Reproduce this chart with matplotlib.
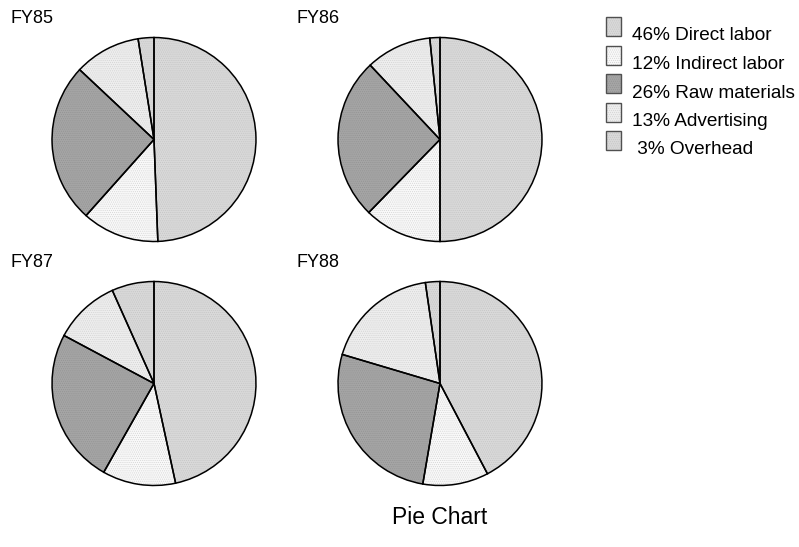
import matplotlib.pyplot as plt
from matplotlib.patches import Rectangle

plt.rcParams['font.family'] = ['Liberation Sans', 'DejaVu Sans']

# share of costs per fiscal year, clockwise from 12 o'clock
years = ['FY85', 'FY86', 'FY87', 'FY88']
direct_labor = [49.4, 50.0, 46.6, 42.3]
indirect_labor = [12.2, 12.3, 11.6, 10.4]
raw_materials = [25.4, 25.7, 24.6, 26.9]
advertising = [10.5, 10.4, 10.5, 18.1]
overhead = [2.5, 1.6, 6.7, 2.3]

legend_labels = ['46% Direct labor', '12% Indirect labor', '26% Raw materials',
                 '13% Advertising', ' 3% Overhead']

faces = ['#d9d9d9', '#f9f9f9', '#a5a5a5', '#eeeeee', '#d9d9d9']
dots = ['#c6c6c6', '#d6d6d6', '#949494', '#d4d4d4', '#c6c6c6']

W, H = 799, 547
fig = plt.figure(figsize=(W / 100, H / 100), dpi=100)
plt.rcParams['hatch.linewidth'] = 0.5

# pie centres in pixels, radius 103
centres = [(154, 139.5), (440, 139.5), (154, 383.5), (440, 383.5)]
r = 103

for i, yr in enumerate(years):
    cx, cy = centres[i]
    ax = fig.add_axes([(cx - r) / W, (H - cy - r) / H, 2 * r / W, 2 * r / H])
    vals = [direct_labor[i], indirect_labor[i], raw_materials[i], advertising[i], overhead[i]]
    # fill with dotted texture
    wedges, _ = ax.pie(vals, startangle=90, counterclock=False, colors=faces,
                       wedgeprops=dict(linewidth=0, hatch='........'))
    for w, d in zip(wedges, dots):
        w.set_edgecolor(d)
    # black outlines on top
    ax.pie(vals, startangle=90, counterclock=False,
           wedgeprops=dict(linewidth=1.1, edgecolor='black', facecolor='none'))
    ax.set_xlim(-1.01, 1.01)
    ax.set_ylim(-1.01, 1.01)
    fig.text((cx - 144) / W, 1 - (cy - 121) / H, yr, fontsize=13, va='center', ha='left')

# legend drawn on an overlay in pixel units
lax = fig.add_axes([0, 0, 1, 1])
lax.set_xlim(0, W)
lax.set_ylim(H, 0)
lax.axis('off')
for k, lab in enumerate(legend_labels):
    top = 17 + 28.5 * k
    lax.add_patch(Rectangle((606, top), 15, 19, facecolor=faces[k], edgecolor=dots[k],
                            linewidth=0, hatch='........'))
    lax.add_patch(Rectangle((606, top), 15, 19, facecolor='none', edgecolor='#505050',
                            linewidth=1.0))
    lax.text(632, top + 19, lab, fontsize=13.7, va='center', ha='left')

fig.text(440 / W, 1 - 518 / H, 'Pie Chart', fontsize=16.5, ha='center', va='center')

fig.savefig('out.png', dpi=100)
